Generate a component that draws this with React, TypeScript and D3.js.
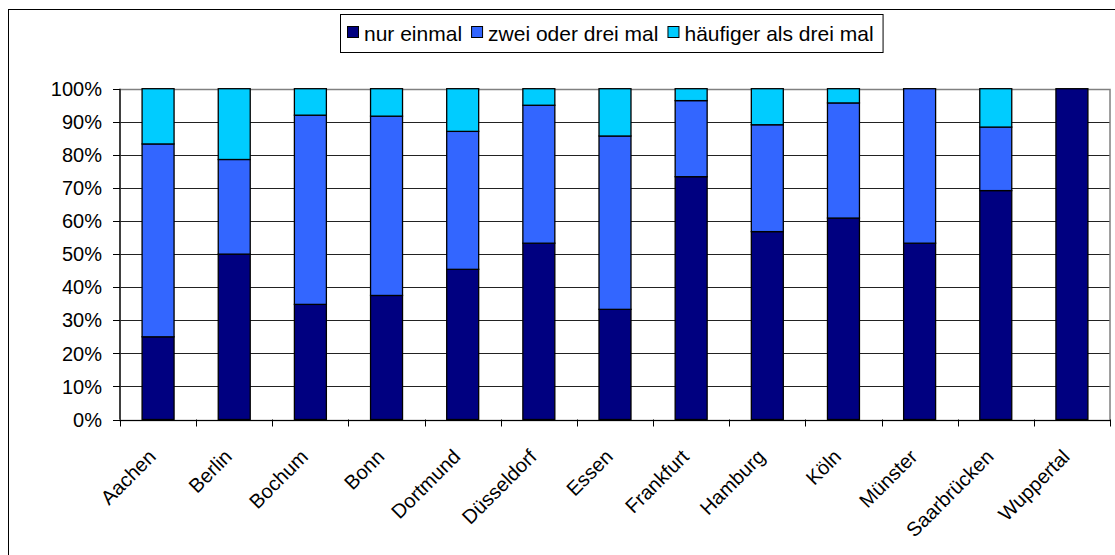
import React, { useEffect, useRef } from "react";
import * as d3 from "d3";

const cities = ["Aachen", "Berlin", "Bochum", "Bonn", "Dortmund", "Düsseldorf", "Essen", "Frankfurt", "Hamburg", "Köln", "Münster", "Saarbrücken", "Wuppertal"];
const seriesNames = ["nur einmal", "zwei oder drei mal", "häufiger als drei mal"];
const nurEinmal = [25.0, 50.0, 34.8, 37.5, 45.4, 53.3, 33.3, 73.4, 56.8, 60.9, 53.3, 69.2, 100];
const zweiOderDrei = [58.3, 28.6, 57.2, 54.2, 41.7, 41.7, 52.4, 23.0, 32.3, 34.8, 46.7, 19.2, 0];
const haeufiger = [16.7, 21.4, 8.0, 8.3, 12.9, 5.0, 14.3, 3.6, 10.9, 4.3, 0, 11.6, 0];
const yTicks = [0, 10, 20, 30, 40, 50, 60, 70, 80, 90, 100];
const colors = ["#000080", "#3366FF", "#00CCFF"];

const W = 1115, H = 555;
const FONT = "'Liberation Sans', Arial, sans-serif";

export default function App() {
  const ref = useRef<SVGSVGElement>(null);
  useEffect(() => {
    const svg = d3.select(ref.current);
    svg.selectAll("*").remove();
    const left = 120, right = 1110, top = 88.7, bottom = 419.5;
    const x = d3.scaleBand().domain(cities).range([left, right]).padding(0);
    const y = d3.scaleLinear().domain([0, 100]).range([bottom, top]);

    svg.append("rect").attr("x", 0).attr("y", 0).attr("width", W).attr("height", H).attr("fill", "#fff");
    svg.append("rect").attr("x", 8.5).attr("y", 9.5).attr("width", W + 20).attr("height", H + 20)
      .attr("fill", "none").attr("stroke", "#000").attr("stroke-width", 1);

    // gridlines
    svg.append("g").selectAll("line").data(yTicks).join("line")
      .attr("x1", left).attr("x2", right)
      .attr("y1", d => Math.round(y(d)) + 0.5).attr("y2", d => Math.round(y(d)) + 0.5)
      .attr("stroke", "#222").attr("stroke-width", 1);
    // plot border
    svg.append("rect").attr("x", left).attr("y", Math.round(top) + 0.5)
      .attr("width", right - left).attr("height", Math.round(bottom) - Math.round(top))
      .attr("fill", "none").attr("stroke", "#808080").attr("stroke-width", 1.5);

    // bars
    const stack = d3.stack<number>().keys(["0", "1", "2"])
      .value((i, k) => [nurEinmal, zweiOderDrei, haeufiger][+k][i]);
    const series = stack(cities.map((_, i) => i));
    const bw = x.step() * 0.42;
    series.forEach((s, si) => {
      svg.append("g").selectAll("rect").data(s.filter(d => d[1] - d[0] > 0)).join("rect")
        .attr("x", d => (x(cities[d.data]) as number) + (x.step() - bw) / 2)
        .attr("y", d => y(d[1]))
        .attr("width", bw)
        .attr("height", d => y(d[0]) - y(d[1]))
        .attr("fill", colors[si])
        .attr("stroke", "#000").attr("stroke-width", 1.3);
    });

    // axes
    const yAxisX = left;
    svg.append("line").attr("x1", yAxisX).attr("x2", yAxisX).attr("y1", top).attr("y2", bottom)
      .attr("stroke", "#000").attr("stroke-width", 1.2);
    svg.append("g").selectAll("line").data(yTicks).join("line")
      .attr("x1", left - 7).attr("x2", left)
      .attr("y1", d => Math.round(y(d)) + 0.5).attr("y2", d => Math.round(y(d)) + 0.5)
      .attr("stroke", "#000");
    svg.append("g").selectAll("text").data(yTicks).join("text")
      .attr("x", 102).attr("y", d => y(d)).attr("dy", "0.36em")
      .attr("text-anchor", "end").attr("font-family", FONT).attr("font-size", 20)
      .attr("fill", "#000").text(d => d + "%");

    svg.append("line").attr("x1", left).attr("x2", right).attr("y1", Math.round(bottom) + 0.5).attr("y2", Math.round(bottom) + 0.5)
      .attr("stroke", "#000").attr("stroke-width", 1.2);
    const bounds = cities.map(c => x(c) as number).concat([right]);
    svg.append("g").selectAll("line").data(bounds).join("line")
      .attr("x1", d => Math.round(d) + 0.5).attr("x2", d => Math.round(d) + 0.5)
      .attr("y1", bottom).attr("y2", bottom + 7).attr("stroke", "#000");

    svg.append("g").selectAll("text").data(cities).join("text")
      .attr("transform", c => `translate(${(x(c) as number) + x.step() / 2 - 1},${bottom + 38.5}) rotate(-45)`)
      .attr("text-anchor", "end").attr("font-family", FONT).attr("font-size", 20)
      .attr("fill", "#000").text(c => c);

    // legend
    const lg = svg.append("g");
    const lx = 340, ly = 14, lh = 38;
    let cx = lx + 7;
    const tmp = lg.append("g");
    seriesNames.forEach((n, i) => {
      const mx = cx;
      const t = tmp.append("text").attr("x", mx + 17).attr("y", ly + lh / 2).attr("dy", "0.36em")
        .attr("font-family", FONT).attr("font-size", 21).attr("fill", "#000").text(n);
      const len = (t.node() as SVGTextElement).getComputedTextLength();
      lg.insert("rect", "g").attr("x", mx + 0.5).attr("y", ly + 12.5).attr("width", 11).attr("height", 11)
        .attr("fill", colors[i]).attr("stroke", "#000").attr("stroke-width", 1);
      cx = mx + 17 + len + 9;
    });
    lg.insert("rect", ":first-child").attr("x", lx + 0.5).attr("y", ly + 0.5).attr("width", cx - lx).attr("height", lh)
      .attr("fill", "#fff").attr("stroke", "#000").attr("stroke-width", 1);
  }, []);
  return (
    <svg ref={ref} width={W} height={H} style={{ position: "absolute", left: 0, top: 0, display: "block" }} />
  );
}
